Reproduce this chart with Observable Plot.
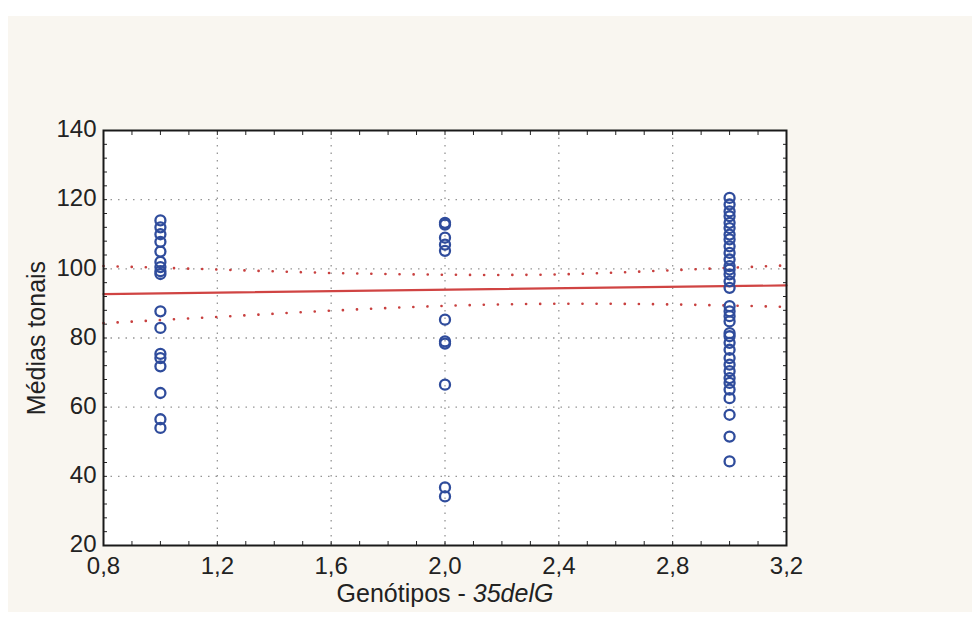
<!DOCTYPE html>
<html>
<head>
<meta charset="utf-8">
<script src="https://cdn.jsdelivr.net/npm/d3@7"></script>
<script src="https://cdn.jsdelivr.net/npm/@observablehq/plot@0.6"></script>
<style>
  html, body { margin: 0; padding: 0; background: #ffffff; }
  #panel { position: absolute; left: 8px; top: 16px; width: 964px; height: 596px; background: #f9f6f0; }
  #chart { position: absolute; left: 0; top: 0; }
  #chart svg g[aria-label$="tick label"] text { font-size: 24px; fill: #222; }
  #chart svg g[aria-label$="axis label"] text { font-size: 25px; fill: #222; }
</style>
</head>
<body>
<div id="panel"></div>
<div id="chart"></div>
<script>
// Data
const group1 = [114, 112, 110, 107.8, 105, 102, 100.5, 99.3, 98.5, 87.7, 82.9, 75.4, 74.2, 71.8, 64.1, 56.5, 54];
const group2 = [113.3, 112.8, 109, 107, 105.2, 85.3, 79, 78.4, 66.5, 36.8, 34.2];
const group3 = [120.5, 118.6, 116.6, 115.2, 113.3, 111.8, 109.9, 108.5, 106.5, 104.6, 102.7, 100.8, 99.8, 98.4, 96.4, 94.5,
                89.2, 87.7, 86.3, 84.8, 81.4, 80.5, 78.6, 76.6, 74.2, 72.3, 70.4, 68.4, 67.0, 65.1, 62.6, 57.8, 51.5, 44.3];
const fitX = [0.8, 3.2];
const fitY = [92.7, 95.2];
const bandX = [0.8, 1.2, 1.6, 2.0, 2.4, 2.8, 3.2];
const upperY = [100.8, 99.8, 98.8, 98.3, 98.4, 99.6, 101.0];
const lowerY = [84.3, 86.1, 87.9, 89.3, 89.9, 89.7, 89.0];
const xTicks = [0.8, 1.2, 1.6, 2.0, 2.4, 2.8, 3.2];
const yTicks = [20, 40, 60, 80, 100, 120, 140];
const xGrid = [1.2, 1.6, 2.0, 2.4, 2.8];
const yGrid = [40, 60, 80, 100, 120];

const points = [
  ...group1.map(v => ({x: 1, y: v})),
  ...group2.map(v => ({x: 2, y: v})),
  ...group3.map(v => ({x: 3, y: v}))
];
const fit = fitX.map((x, i) => ({x, y: fitY[i]}));
const upper = bandX.map((x, i) => ({x, y: upperY[i]}));
const lower = bandX.map((x, i) => ({x, y: lowerY[i]}));

const xMinor = d3.range(8, 33).map(d => d / 10);
const yMinor = d3.range(20, 141, 4);
const comma = d => d3.format(".1f")(d).replace(".", ",");

const font = "'Liberation Sans', Arial, sans-serif";
const chart = Plot.plot({
  width: 972,
  height: 620,
  marginLeft: 103,
  marginRight: 186,
  marginTop: 130,
  marginBottom: 75,
  style: {background: "transparent", fontFamily: font, fontSize: "24px", color: "#222"},
  x: {domain: [0.8, 3.2]},
  y: {domain: [20, 140]},
  marks: [
    Plot.frame({fill: "white", stroke: "none"}),
    Plot.gridX(xGrid, {stroke: "#8a8a8a", strokeOpacity: 0.9, strokeWidth: 1.3, strokeDasharray: "1.5,6"}),
    Plot.gridY(yGrid, {stroke: "#8a8a8a", strokeOpacity: 0.9, strokeWidth: 1.3, strokeDasharray: "1.5,6"}),
    // minor ticks inside frame
    Plot.axisX(xMinor, {anchor: "bottom", tickSize: 4, dy: -4, tickFormat: () => "", label: null, stroke: "#222"}),
    Plot.axisX(xMinor, {anchor: "top", tickSize: 4, dy: 4, tickFormat: () => "", label: null, stroke: "#222"}),
    Plot.axisY(yMinor, {anchor: "left", tickSize: 4, dx: 4, tickFormat: () => "", label: null, stroke: "#222"}),
    Plot.axisY(yMinor, {anchor: "right", tickSize: 4, dx: -4, tickFormat: () => "", label: null, stroke: "#222"}),
    // labeled axes
    Plot.axisX(xTicks, {anchor: "bottom", tickSize: 0, tickPadding: 11, tickFormat: comma, fontSize: 24,
      label: "Genótipos - 35delG", labelAnchor: "center", labelOffset: 56, labelArrow: "none"}),
    Plot.axisY(yTicks, {anchor: "left", tickSize: 0, tickPadding: 7, fontSize: 24, dy: -1,
      label: "Médias tonais", labelAnchor: "center", labelOffset: 76, labelArrow: "none"}),
    Plot.line(upper, {x: "x", y: "y", curve: "natural", stroke: "#c8403f", strokeWidth: 2.6, strokeDasharray: "0.1,14", strokeLinecap: "round"}),
    Plot.line(lower, {x: "x", y: "y", curve: "natural", stroke: "#c8403f", strokeWidth: 2.6, strokeDasharray: "0.1,14", strokeLinecap: "round"}),
    Plot.line(fit, {x: "x", y: "y", stroke: "#d04443", strokeWidth: 2.2}),
    Plot.dot(points, {x: "x", y: "y", r: 5, stroke: "#2f4c9c", strokeWidth: 2.3, fill: "none"}),
    Plot.frame({stroke: "#1a1a1a", strokeWidth: 2})
  ]
});
document.getElementById("chart").appendChild(chart);

// italic part of x label
const lab = chart.querySelector('[aria-label="x-axis label"] text');
if (lab) {
  lab.textContent = "Genótipos - ";
  const ts = document.createElementNS("http://www.w3.org/2000/svg", "tspan");
  ts.setAttribute("font-style", "italic");
  ts.textContent = "35delG";
  lab.appendChild(ts);
}
</script>
</body>
</html>
